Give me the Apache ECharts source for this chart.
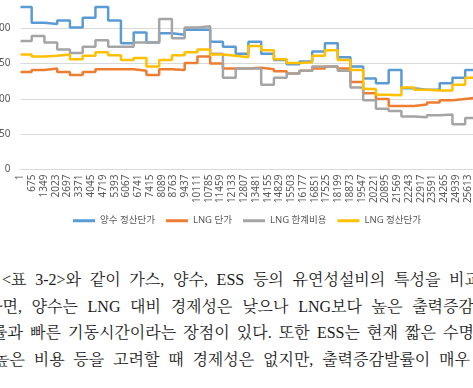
<!DOCTYPE html>
<html>
<head>
<meta charset="utf-8">
<script src="https://cdn.jsdelivr.net/npm/echarts/dist/echarts.min.js"></script>
<style>
  html, body { margin: 0; padding: 0; background: #fff; }
  body { width: 473px; height: 388px; overflow: hidden; position: relative; }
  #chart { position: absolute; left: 0; top: 0; width: 473px; height: 240px; }
  .line {
    position: absolute; height: 26px; line-height: 26px;
    font-family: "Liberation Serif", "Noto Serif CJK KR", "Noto Sans CJK KR", serif;
    font-size: 16px; color: #1a1a1a;
    text-align: justify; text-align-last: justify;
  }
</style>
</head>
<body>
<div id="chart"></div>
<div class="line" style="left:2px;width:478px;top:267px">&lt;표 3-2&gt;와 같이 가스, 양수, ESS 등의 유연성설비의 특성을 비교</div>
<div class="line" style="left:-13px;width:487px;top:294px">하면, 양수는 LNG 대비 경제성은 낮으나 LNG보다 높은 출력증감</div>
<div class="line" style="left:-8px;width:482px;top:320px">률과 빠른 기동시간이라는 장점이 있다. 또한 ESS는 현재 짧은 수명</div>
<div class="line" style="left:-6px;width:476px;top:347px">높은 비용 등을 고려할 때 경제성은 없지만, 출력증감발률이 매우</div>
<script>
// hour index where each monthly step begins
const periodStart = [0, 640, 1370, 2100, 2830, 3560, 4290, 5020, 5750, 6480, 7210, 7940,
  8670, 9400, 10130, 10860, 11590, 12320, 13050, 13780, 14510, 15240, 15970, 16700,
  17430, 18160, 18890, 19620, 20350, 21080, 21810, 22540, 23270, 24000, 24730, 25460]
const periodEnd = 26280

const pumpedPrice = [230, 208, 206, 211, 201, 215, 230, 211, 179, 194, 180, 193,
  191, 198, 198, 181, 174, 164, 181, 164, 155, 149, 153, 167,
  179, 159, 146, 129, 122, 141, 115, 113, 113, 122, 130, 141]
const lngPrice = [138, 141, 143, 138, 134, 138, 142, 142, 142, 140, 134, 142,
  141, 151, 160, 150, 143, 143, 144, 142, 139, 136, 140, 143,
  146, 143, 124, 108, 100, 90, 90, 92, 95, 98, 100, 102]
const lngMarginal = [182, 189, 180, 170, 165, 174, 183, 174, 174, 180, 180, 213,
  186, 201, 203, 164, 130, 143, 143, 120, 130, 136, 140, 146,
  146, 140, 116, 98, 86, 83, 75, 74, 77, 78, 64, 73]
const lngSettle = [163, 160, 161, 163, 156, 161, 166, 162, 155, 158, 146, 155,
  162, 166, 170, 163, 161, 159, 175, 169, 156, 151, 152, 161,
  169, 155, 141, 114, 106, 105, 116, 113, 112, 112, 120, 130]

const seriesNames = ["양수 정산단가", "LNG 단가", "LNG 한계비용", "LNG 정산단가"]
const seriesColors = ["#5B9BD5", "#ED7D31", "#A5A5A5", "#FFC000"]

const xTickLabels = ["1", "675", "1349", "2023", "2697", "3371", "4045", "4719", "5393",
  "6067", "6741", "7415", "8089", "8763", "9437", "10111", "10785", "11459", "12133",
  "12807", "13481", "14155", "14829", "15503", "16177", "16851", "17525", "18199",
  "18873", "19547", "20221", "20895", "21569", "22243", "22917", "23591", "24265",
  "24939", "25613"]
const xTickStep = 674

const labelColor = "#595959"
const gridColor = "#d9d9d9"

const toSteps = (values) => {
  const pts = periodStart.map((h, i) => [h, values[i]])
  pts.push([periodEnd, values[values.length - 1]])
  return pts
}

const chart = echarts.init(document.getElementById("chart"), null, { renderer: "canvas" })

const series = [pumpedPrice, lngPrice, lngMarginal, lngSettle].map((values, i) => ({
  name: seriesNames[i],
  type: "line",
  step: "end",
  data: toSteps(values),
  symbol: "none",
  lineStyle: { color: seriesColors[i], width: 2.5 },
  itemStyle: { color: seriesColors[i] },
}))

chart.setOption({
  animation: false,
  grid: { left: 20.5, top: -7, width: 459, height: 176.5, outerBoundsMode: "none", containLabel: false },
  legend: {
    data: seriesNames,
    left: 68,
    top: 211,
    icon: "rect",
    itemWidth: 22,
    itemHeight: 3,
    itemGap: 11,
    textStyle: { color: labelColor, fontSize: 9.5, fontFamily: "Noto Sans, Noto Sans CJK KR" },
  },
  xAxis: {
    type: "value",
    min: 0,
    max: periodEnd,
    interval: xTickStep,
    axisLine: { show: true, lineStyle: { color: gridColor, width: 1 } },
    axisTick: { show: false },
    splitLine: { show: false },
    axisLabel: {
      rotate: 90,
      margin: 5,
      fontSize: 10,
      color: labelColor,
      fontFamily: "Noto Sans",
      showMaxLabel: false,
      formatter: (v) => xTickLabels[Math.round(v / xTickStep)] || "",
    },
  },
  yAxis: {
    type: "value",
    min: 0,
    max: 250,
    interval: 50,
    axisLine: { show: false },
    axisTick: { show: false },
    splitLine: { lineStyle: { color: gridColor, width: 1 } },
    axisLabel: { margin: 10, fontSize: 10, color: labelColor, fontFamily: "Noto Sans" },
  },
  series: series,
})
</script>
</body>
</html>
